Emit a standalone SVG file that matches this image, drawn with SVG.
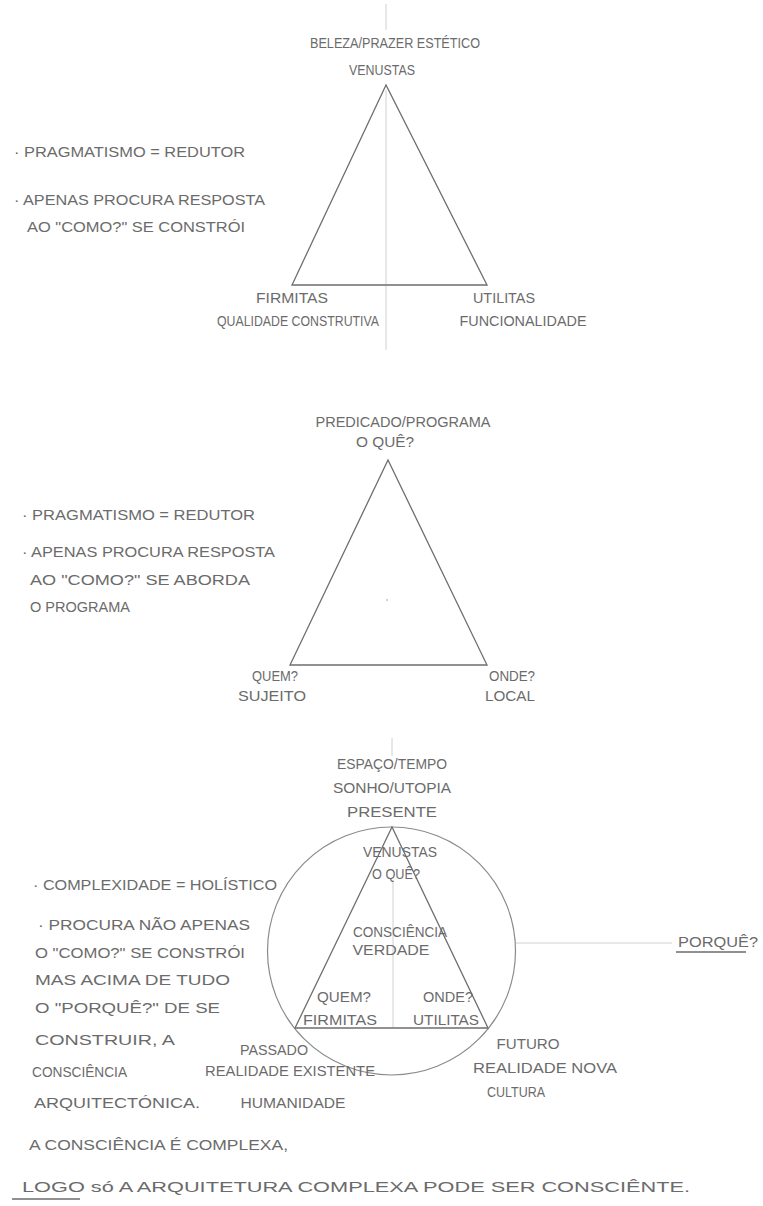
<svg xmlns="http://www.w3.org/2000/svg" width="763" height="1206" viewBox="0 0 763 1206">
<style>
.t{font-family:"Liberation Sans","DejaVu Sans",sans-serif;font-size:14px;fill:#6b6b6b;}
.m{text-anchor:middle;}
.edge{fill:none;stroke:#6e6e6e;stroke-width:1.3;stroke-linejoin:miter;}
.guide{fill:none;stroke:#c4c4c4;stroke-width:0.8;}
.circ{fill:none;stroke:#8a8a8a;stroke-width:1.2;}
.ul{stroke:#6b6b6b;stroke-width:1.4;}
</style>
<rect width="763" height="1206" fill="#ffffff"/>

<g id="connectors">
  <line class="guide" x1="386" y1="4" x2="386" y2="30"/>
  <line class="guide" x1="386" y1="90" x2="386" y2="350"/>
  <line class="guide" x1="392" y1="738" x2="392" y2="756"/>
  <line class="guide" x1="393" y1="880" x2="393" y2="1028"/>
  <line class="guide" x1="515" y1="943" x2="672" y2="943"/>
  <circle cx="387" cy="600" r="0.9" fill="#bdbdbd"/>
</g>

<g id="diagram1">
  <polygon id="triangle1" class="edge" points="386,85 292,285 487,285"/>
  <g id="d1-top">
    <text class="t m" x="395" y="48" textLength="170" lengthAdjust="spacingAndGlyphs">BELEZA/PRAZER ESTÉTICO</text>
    <text class="t m" x="382" y="75" textLength="66" lengthAdjust="spacingAndGlyphs">VENUSTAS</text>
  </g>
  <g id="d1-left">
    <text class="t m" x="292" y="303" textLength="72" lengthAdjust="spacingAndGlyphs">FIRMITAS</text>
    <text class="t m" x="298" y="326" textLength="162" lengthAdjust="spacingAndGlyphs">QUALIDADE CONSTRUTIVA</text>
  </g>
  <g id="d1-right">
    <text class="t m" x="504" y="303" textLength="62" lengthAdjust="spacingAndGlyphs">UTILITAS</text>
    <text class="t m" x="523" y="326" textLength="127" lengthAdjust="spacingAndGlyphs">FUNCIONALIDADE</text>
  </g>
  <g id="d1-note">
    <text class="t" x="14" y="157" textLength="231" lengthAdjust="spacingAndGlyphs">· PRAGMATISMO = REDUTOR</text>
    <text class="t" x="14" y="205" textLength="251" lengthAdjust="spacingAndGlyphs">· APENAS PROCURA RESPOSTA</text>
    <text class="t" x="27" y="232" textLength="218" lengthAdjust="spacingAndGlyphs">AO "COMO?" SE CONSTRÓI</text>
  </g>
</g>

<g id="diagram2">
  <polygon id="triangle2" class="edge" points="388,460 290,665 487,665"/>
  <g id="d2-top">
    <text class="t m" x="403" y="427" textLength="175" lengthAdjust="spacingAndGlyphs">PREDICADO/PROGRAMA</text>
    <text class="t m" x="385" y="447" textLength="58" lengthAdjust="spacingAndGlyphs">O QUÊ?</text>
  </g>
  <g id="d2-left">
    <text class="t m" x="275" y="681" textLength="46" lengthAdjust="spacingAndGlyphs">QUEM?</text>
    <text class="t m" x="272" y="701" textLength="68" lengthAdjust="spacingAndGlyphs">SUJEITO</text>
  </g>
  <g id="d2-right">
    <text class="t m" x="512" y="681" textLength="46" lengthAdjust="spacingAndGlyphs">ONDE?</text>
    <text class="t m" x="510" y="701" textLength="50" lengthAdjust="spacingAndGlyphs">LOCAL</text>
  </g>
  <g id="d2-note">
    <text class="t" x="22" y="520" textLength="233" lengthAdjust="spacingAndGlyphs">· PRAGMATISMO = REDUTOR</text>
    <text class="t" x="22" y="557" textLength="253" lengthAdjust="spacingAndGlyphs">· APENAS PROCURA RESPOSTA</text>
    <text class="t" x="30" y="585" textLength="220" lengthAdjust="spacingAndGlyphs">AO "COMO?" SE ABORDA</text>
    <text class="t" x="30" y="612" textLength="100" lengthAdjust="spacingAndGlyphs">O PROGRAMA</text>
  </g>
</g>

<g id="diagram3">
  <circle id="circle3" class="circ" cx="391.5" cy="951" r="124"/>
  <polygon id="triangle3" class="edge" points="392,827 295,1028 488,1028"/>
  <g id="d3-top">
    <text class="t m" x="392" y="769" textLength="110" lengthAdjust="spacingAndGlyphs">ESPAÇO/TEMPO</text>
    <text class="t m" x="392" y="793" textLength="118" lengthAdjust="spacingAndGlyphs">SONHO/UTOPIA</text>
    <text class="t m" x="392" y="817" textLength="90" lengthAdjust="spacingAndGlyphs">PRESENTE</text>
  </g>
  <g id="d3-venustas">
    <text class="t m" x="400" y="857" textLength="74" lengthAdjust="spacingAndGlyphs">VENUSTAS</text>
    <text class="t m" x="396" y="879" textLength="48" lengthAdjust="spacingAndGlyphs">O QUÊ?</text>
  </g>
  <g id="d3-centre">
    <text class="t m" x="400" y="937" textLength="94" lengthAdjust="spacingAndGlyphs">CONSCIÊNCIA</text>
    <text class="t m" x="391" y="955" textLength="77" lengthAdjust="spacingAndGlyphs">VERDADE</text>
  </g>
  <g id="d3-firmitas">
    <text class="t m" x="344" y="1002" textLength="54" lengthAdjust="spacingAndGlyphs">QUEM?</text>
    <text class="t m" x="340" y="1025" textLength="74" lengthAdjust="spacingAndGlyphs">FIRMITAS</text>
  </g>
  <g id="d3-utilitas">
    <text class="t m" x="448" y="1002" textLength="50" lengthAdjust="spacingAndGlyphs">ONDE?</text>
    <text class="t m" x="446" y="1025" textLength="66" lengthAdjust="spacingAndGlyphs">UTILITAS</text>
  </g>
  <g id="d3-past">
    <text class="t m" x="274" y="1055" textLength="68" lengthAdjust="spacingAndGlyphs">PASSADO</text>
    <text class="t m" x="290" y="1076" textLength="170" lengthAdjust="spacingAndGlyphs">REALIDADE EXISTENTE</text>
    <text class="t m" x="293" y="1108" textLength="105" lengthAdjust="spacingAndGlyphs">HUMANIDADE</text>
  </g>
  <g id="d3-future">
    <text class="t m" x="528" y="1049" textLength="63" lengthAdjust="spacingAndGlyphs">FUTURO</text>
    <text class="t m" x="545" y="1073" textLength="144" lengthAdjust="spacingAndGlyphs">REALIDADE NOVA</text>
    <text class="t m" x="516" y="1097" textLength="58" lengthAdjust="spacingAndGlyphs">CULTURA</text>
  </g>
  <g id="d3-porque">
    <text class="t" x="678" y="947" textLength="80" lengthAdjust="spacingAndGlyphs">PORQUÊ?</text>
    <line class="ul" x1="676" y1="952" x2="746" y2="952"/>
  </g>
  <g id="d3-note">
    <text class="t" x="33" y="890" textLength="244" lengthAdjust="spacingAndGlyphs">· COMPLEXIDADE = HOLÍSTICO</text>
    <text class="t" x="38" y="930" textLength="212" lengthAdjust="spacingAndGlyphs">· PROCURA NÃO APENAS</text>
    <text class="t" x="35" y="958" textLength="210" lengthAdjust="spacingAndGlyphs">O "COMO?" SE CONSTRÓI</text>
    <text class="t" x="35" y="985" textLength="195" lengthAdjust="spacingAndGlyphs">MAS ACIMA DE TUDO</text>
    <text class="t" x="35" y="1013" textLength="185" lengthAdjust="spacingAndGlyphs">O "PORQUÊ?" DE SE</text>
    <text class="t" x="35" y="1045" textLength="140" lengthAdjust="spacingAndGlyphs">CONSTRUIR, A</text>
    <text class="t" x="32" y="1077" textLength="95" lengthAdjust="spacingAndGlyphs">CONSCIÊNCIA</text>
    <text class="t" x="34" y="1108" textLength="166" lengthAdjust="spacingAndGlyphs">ARQUITECTÓNICA.</text>
    <text class="t" x="29" y="1150" textLength="259" lengthAdjust="spacingAndGlyphs">A CONSCIÊNCIA É COMPLEXA,</text>
    <text class="t" x="22" y="1192" textLength="668" lengthAdjust="spacingAndGlyphs">LOGO só A ARQUITETURA COMPLEXA PODE SER CONSCIÊNTE.</text>
    <line class="ul" x1="12" y1="1199" x2="80" y2="1199"/>
  </g>
</g>
</svg>
